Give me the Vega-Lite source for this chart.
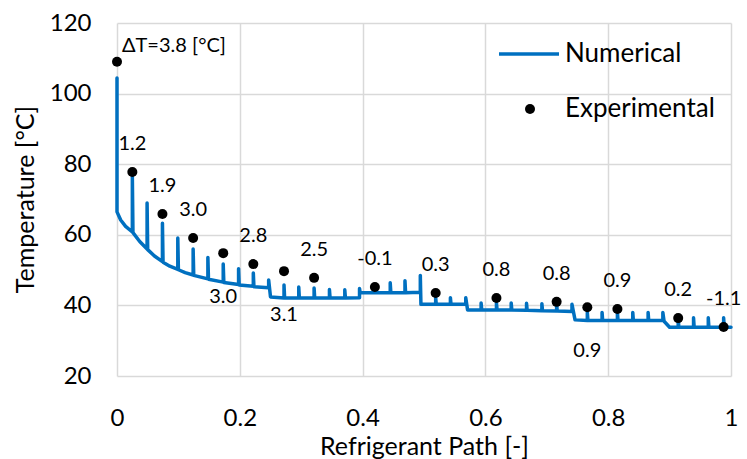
{
  "$schema": "https://vega.github.io/schema/vega-lite/v6.json",
  "autosize": {"type": "none"},
  "width": 614,
  "height": 353,
  "padding": {"left": 117, "top": 23, "right": 16, "bottom": 83},
  "background": "white",
  "config": {
    "view": {"stroke": null},
    "font": "Lato",
    "axis": {
      "grid": true,
      "gridColor": "#d9d9d9",
      "gridWidth": 1.5,
      "domain": false,
      "ticks": false,
      "tickSize": 0,
      "labelFont": "Lato",
      "labelFontSize": 24,
      "labelColor": "#000000",
      "labelFlush": false,
      "labelOverlap": false,
      "titleFont": "Lato",
      "titleFontSize": 25,
      "titleFontWeight": "normal",
      "titleColor": "#000000"
    }
  },
  "datasets": {
    "numerical": [
      {"x":0,"T":104.4},{"x":0,"T":66.5},{"x":0.006,"T":64.2},{"x":0.014,"T":62.4},
      {"x":0.025,"T":60.8},{"x":0.025,"T":76.5},{"x":0.026,"T":60.6},{"x":0.037,"T":58.1},
      {"x":0.049,"T":56.0},{"x":0.049,"T":69.0},{"x":0.05,"T":55.8},{"x":0.061,"T":54.0},
      {"x":0.074,"T":52.4},{"x":0.074,"T":63.3},{"x":0.075,"T":52.2},{"x":0.086,"T":51.1},
      {"x":0.099,"T":50.2},{"x":0.099,"T":59.1},{"x":0.1,"T":50.1},{"x":0.111,"T":49.3},
      {"x":0.124,"T":48.6},{"x":0.124,"T":56.0},{"x":0.125,"T":48.5},
      {"x":0.148,"T":47.5},{"x":0.148,"T":53.6},{"x":0.149,"T":47.4},
      {"x":0.173,"T":46.6},{"x":0.173,"T":51.7},{"x":0.174,"T":46.5},
      {"x":0.198,"T":45.9},{"x":0.198,"T":50.4},{"x":0.199,"T":45.8},
      {"x":0.222,"T":45.4},{"x":0.222,"T":49.2},{"x":0.223,"T":45.3},
      {"x":0.247,"T":45.0},{"x":0.247,"T":47.2},{"x":0.25,"T":42.4},
      {"x":0.272,"T":42.1},{"x":0.272,"T":45.8},{"x":0.273,"T":42.1},
      {"x":0.296,"T":42.1},{"x":0.296,"T":45.2},{"x":0.297,"T":42.1},
      {"x":0.321,"T":42.1},{"x":0.321,"T":44.9},{"x":0.322,"T":42.1},
      {"x":0.346,"T":42.1},{"x":0.346,"T":44.5},{"x":0.347,"T":42.1},
      {"x":0.371,"T":42.1},{"x":0.371,"T":44.4},{"x":0.372,"T":42.1},
      {"x":0.395,"T":42.2},{"x":0.395,"T":44.8},{"x":0.396,"T":43.6},
      {"x":0.42,"T":43.6},{"x":0.42,"T":45.8},{"x":0.421,"T":43.6},
      {"x":0.445,"T":43.6},{"x":0.445,"T":46.4},{"x":0.446,"T":43.6},
      {"x":0.469,"T":43.6},{"x":0.469,"T":47.0},{"x":0.47,"T":43.6},
      {"x":0.494,"T":43.7},{"x":0.494,"T":48.5},{"x":0.495,"T":40.3},
      {"x":0.519,"T":40.3},{"x":0.519,"T":42.2},{"x":0.52,"T":40.3},
      {"x":0.543,"T":40.3},{"x":0.543,"T":42.2},{"x":0.544,"T":40.3},
      {"x":0.568,"T":40.3},{"x":0.568,"T":42.2},{"x":0.571,"T":38.7},
      {"x":0.593,"T":38.7},{"x":0.593,"T":40.7},{"x":0.594,"T":38.7},
      {"x":0.618,"T":38.7},{"x":0.618,"T":40.7},{"x":0.619,"T":38.7},
      {"x":0.642,"T":38.7},{"x":0.642,"T":40.7},{"x":0.643,"T":38.7},
      {"x":0.667,"T":38.6},{"x":0.667,"T":40.6},{"x":0.668,"T":38.6},
      {"x":0.692,"T":38.5},{"x":0.692,"T":40.5},{"x":0.693,"T":38.5},
      {"x":0.716,"T":38.4},{"x":0.716,"T":40.4},{"x":0.717,"T":38.4},
      {"x":0.741,"T":38.3},{"x":0.741,"T":40.3},{"x":0.746,"T":35.9},
      {"x":0.766,"T":35.7},{"x":0.766,"T":38.0},{"x":0.767,"T":35.7},
      {"x":0.79,"T":35.7},{"x":0.79,"T":38.0},{"x":0.791,"T":35.7},
      {"x":0.815,"T":35.7},{"x":0.815,"T":38.0},{"x":0.816,"T":35.7},
      {"x":0.84,"T":35.7},{"x":0.84,"T":38.0},{"x":0.841,"T":35.7},
      {"x":0.865,"T":35.7},{"x":0.865,"T":38.0},{"x":0.866,"T":35.7},
      {"x":0.889,"T":35.7},{"x":0.889,"T":38.0},{"x":0.891,"T":35.5},{"x":0.9,"T":33.8},
      {"x":0.914,"T":33.8},{"x":0.914,"T":36.5},{"x":0.915,"T":33.8},
      {"x":0.939,"T":33.8},{"x":0.939,"T":36.5},{"x":0.94,"T":33.8},
      {"x":0.963,"T":33.8},{"x":0.963,"T":36.5},{"x":0.964,"T":33.8},
      {"x":0.988,"T":33.8},{"x":0.988,"T":36.5},{"x":0.989,"T":33.8},
      {"x":1,"T":33.8}
    ],
    "experimental": [
      {"x":0,"T":109.0,"label":"ΔT=3.8 [°C]"},
      {"x":0.025,"T":77.8,"label":"1.2"},
      {"x":0.074,"T":65.9,"label":"1.9"},
      {"x":0.124,"T":59.1,"label":"3.0"},
      {"x":0.173,"T":54.8,"label":"3.0"},
      {"x":0.222,"T":51.7,"label":"2.8"},
      {"x":0.272,"T":49.7,"label":"3.1"},
      {"x":0.321,"T":47.8,"label":"2.5"},
      {"x":0.42,"T":45.2,"label":"-0.1"},
      {"x":0.519,"T":43.5,"label":"0.3"},
      {"x":0.618,"T":42.1,"label":"0.8"},
      {"x":0.716,"T":41.0,"label":"0.8"},
      {"x":0.766,"T":39.5,"label":"0.9"},
      {"x":0.815,"T":39.0,"label":"0.9"},
      {"x":0.914,"T":36.4,"label":"0.2"},
      {"x":0.988,"T":33.9,"label":"-1.1"}
    ]
  },
  "encoding": {
    "x": {
      "field": "x", "type": "quantitative",
      "scale": {"domain": [0, 1], "nice": false, "zero": false},
      "axis": {"values": [0, 0.2, 0.4, 0.6, 0.8, 1], "format": "~g", "title": "Refrigerant Path [-]", "labelPadding": 30, "titleY": 70, "titleBaseline": "middle"}
    },
    "y": {
      "field": "T", "type": "quantitative",
      "scale": {"domain": [20, 120], "nice": false, "zero": false},
      "axis": {"values": [20, 40, 60, 80, 100, 120], "format": "d", "title": "Temperature [°C]", "labelPadding": 26, "titleX": -92, "titleY": 176, "titleAngle": -90, "titleAlign": "center", "titleBaseline": "middle"}
    }
  },
  "layer": [
    {
      "data": {"name": "numerical"},
      "mark": {"type": "line", "strokeWidth": 3.5, "strokeJoin": "round", "strokeCap": "round"},
      "encoding": {
        "order": {"value": null},
        "stroke": {
          "datum": "Numerical",
          "type": "nominal",
          "scale": {"range": ["#0070C0"]},
          "legend": {"title": null, "orient": "none", "legendX": 380, "legendY": -1, "symbolType": "stroke", "symbolSize": 3600, "symbolStrokeWidth": 3.5, "labelFont": "Lato", "labelFontSize": 26, "labelColor": "#000000", "labelOffset": 4, "padding": 0}
        }
      }
    },
    {
      "data": {"name": "experimental"},
      "mark": {"type": "point", "filled": true, "size": 100, "opacity": 1},
      "encoding": {
        "fill": {
          "datum": "Experimental",
          "type": "nominal",
          "scale": {"range": ["#000000"]},
          "legend": {"title": null, "orient": "none", "legendX": 400, "legendY": 73, "symbolType": "circle", "symbolSize": 100, "symbolStrokeWidth": 0, "labelFont": "Lato", "labelFontSize": 26, "labelColor": "#000000", "labelOffset": 22, "padding": 0}
        }
      }
    },
    {
      "data": {"name": "experimental"},
      "transform": [{"filter": "datum.x > 0 && datum.x != 0.173 && datum.x != 0.272 && datum.x != 0.766"}],
      "mark": {"type": "text", "font": "Lato", "fontSize": 20, "color": "#000000", "baseline": "middle", "align": "center", "dy": -28},
      "encoding": {"text": {"field": "label"}}
    },
    {
      "data": {"name": "experimental"},
      "transform": [{"filter": "datum.x == 0.173 || datum.x == 0.272 || datum.x == 0.766"}],
      "mark": {"type": "text", "font": "Lato", "fontSize": 20, "color": "#000000", "baseline": "middle", "align": "center", "dy": 44},
      "encoding": {"text": {"field": "label"}}
    },
    {
      "data": {"name": "experimental"},
      "transform": [{"filter": "datum.x == 0"}],
      "mark": {"type": "text", "font": "Lato", "fontSize": 20, "color": "#000000", "baseline": "middle", "align": "left", "dx": 5, "dy": -16},
      "encoding": {"text": {"field": "label"}}
    }
  ]
}
